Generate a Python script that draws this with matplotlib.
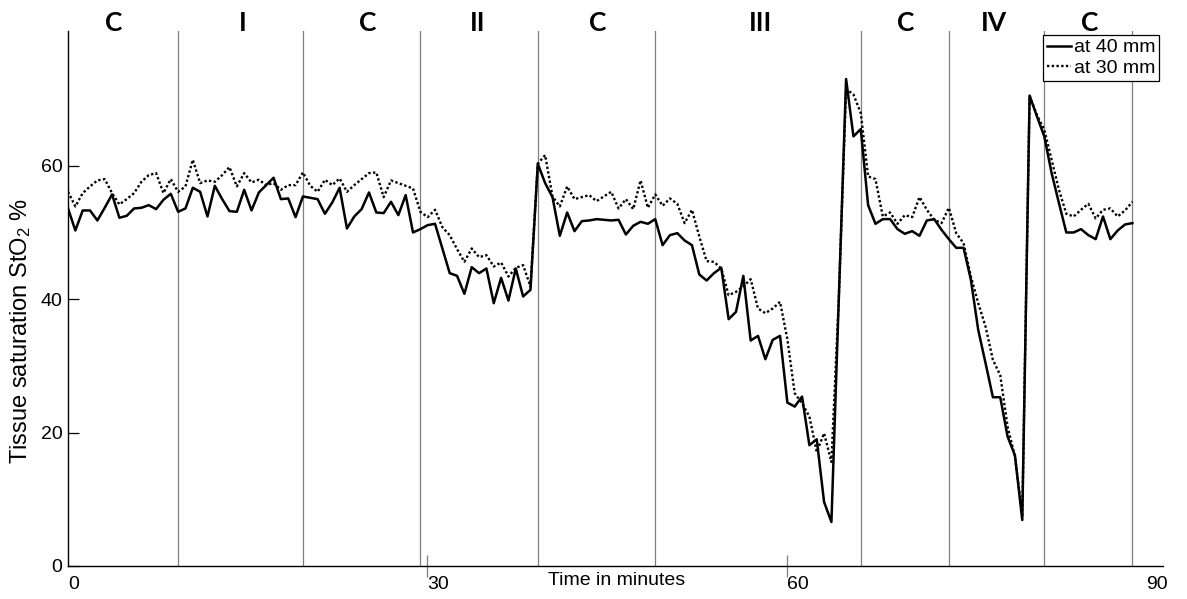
"""Tissue oxygen saturation at two probe depths across the test protocol."""

import matplotlib
matplotlib.use("Agg")
import matplotlib.pyplot as plt
import numpy as np

plt.rcParams["font.family"] = ["Liberation Sans", "DejaVu Sans"]
plt.rcParams["mathtext.default"] = "regular"

INK = "#000000"
RULE = "#7f7f7f"

# sampling interval of the oximeter, minutes
DT = 0.6127

# StO2 (%) per sample
SAT_40MM = [
    53.6, 50.3, 53.3, 53.3, 51.8, 53.7, 55.7, 52.2, 52.5, 53.6,
    53.7, 54.1, 53.5, 54.9, 55.8, 53.1, 53.6, 56.7, 56.1, 52.4,
    57.0, 55.0, 53.2, 53.1, 56.4, 53.3, 56.0, 57.1, 58.2, 55.0,
    55.1, 52.3, 55.4, 55.2, 55.0, 52.8, 54.5, 56.7, 50.6, 52.4,
    53.5, 56.0, 53.0, 52.9, 54.6, 52.6, 55.6, 50.0, 50.5, 51.1,
    51.3, 47.6, 43.9, 43.5, 40.8, 44.8, 43.9, 44.6, 39.4, 43.2,
    39.8, 44.6, 40.4, 41.4, 60.3, 57.4, 55.3, 49.5, 53.0, 50.2,
    51.7, 51.8, 52.0, 51.9, 51.8, 51.9, 49.7, 51.0, 51.6, 51.3,
    52.0, 48.1, 49.6, 49.9, 48.8, 48.1, 43.7, 42.8, 43.9, 44.7,
    37.0, 38.1, 43.5, 33.8, 34.5, 31.0, 33.9, 34.5, 24.5, 23.9,
    25.4, 18.1, 19.0, 9.6, 6.6, 39.8, 73.0, 64.4, 65.5, 54.1,
    51.3, 52.0, 52.0, 50.5, 49.8, 50.2, 49.5, 51.8, 52.0, 50.4,
    49.0, 47.7, 47.7, 42.9, 35.4, 30.4, 25.3, 25.3, 19.4, 16.6,
    6.9, 70.5, 67.4, 64.4, 58.9, 54.4, 50.0, 50.0, 50.5, 49.6,
    49.0, 52.4, 49.0, 50.3, 51.2, 51.4,
]
SAT_30MM = [
    56.1, 53.9, 55.9, 56.9, 57.8, 58.0, 55.9, 54.2, 55.0, 55.9,
    57.6, 58.6, 58.9, 55.9, 58.0, 56.1, 56.9, 60.9, 57.4, 57.8,
    57.6, 58.6, 59.8, 56.9, 58.9, 57.5, 57.9, 57.1, 57.4, 56.4,
    57.1, 57.1, 59.0, 57.0, 56.1, 57.9, 57.1, 58.1, 56.1, 57.1,
    58.0, 58.9, 59.0, 55.3, 57.8, 57.4, 57.0, 56.6, 53.1, 52.3,
    53.4, 50.8, 49.6, 47.5, 45.6, 47.6, 46.3, 46.6, 44.9, 45.5,
    43.4, 44.7, 45.1, 41.9, 60.3, 61.6, 55.4, 53.9, 56.9, 55.0,
    55.3, 55.6, 54.7, 55.4, 56.1, 53.6, 55.0, 53.5, 57.8, 53.7,
    55.7, 54.0, 55.1, 54.3, 51.4, 53.4, 49.4, 45.7, 45.6, 44.6,
    40.6, 41.1, 41.9, 43.0, 38.6, 37.9, 38.6, 39.6, 34.0, 25.9,
    24.4, 22.4, 17.1, 19.9, 15.6, 40.0, 71.5, 70.7, 67.9, 58.4,
    58.0, 52.4, 53.0, 51.3, 52.6, 52.3, 55.3, 53.4, 51.9, 51.4,
    53.7, 49.9, 48.4, 43.4, 39.4, 35.9, 30.9, 28.6, 20.9, 16.4,
    7.6, 70.5, 67.6, 65.4, 60.9, 56.4, 52.8, 52.4, 53.4, 54.3,
    52.1, 53.4, 53.6, 52.4, 53.3, 54.6,
]

# protocol phases: boundaries (min) and the label drawn over each phase
PHASE_BOUNDS = [9.2, 19.6, 29.4, 39.2, 49.0, 66.2, 73.5, 81.5, 88.8]
PHASE_NAMES = ["C", "I", "C", "II", "C", "III", "C", "IV", "C"]
PHASE_LABEL_X = [3.8, 14.6, 25.0, 34.2, 44.2, 57.8, 69.9, 77.3, 85.3]

X_TICKS = [0, 30, 60, 90]
Y_TICKS = [0, 20, 40, 60]

time_min = np.arange(len(SAT_40MM)) * DT

fig = plt.figure(figsize=(11.87, 5.99), dpi=100)
ax = fig.add_axes([0.0573, 0.0551, 0.9225, 0.8931])

for xb in PHASE_BOUNDS:
    ax.axvline(xb, color=RULE, lw=0.9, zorder=1)

ax.plot(time_min, SAT_40MM, color=INK, lw=1.8, label="at 40 mm", zorder=3)
ax.plot(time_min, SAT_30MM, color=INK, lw=1.7, linestyle=(0, (1, 1)),
        label="at 30 mm", zorder=2)

for xl, name in zip(PHASE_LABEL_X, PHASE_NAMES):
    ax.text(xl, 81.4, name, ha="center", va="center", fontsize=19,
            fontweight="bold", family=["Lato", "DejaVu Sans"],
            clip_on=False)

ax.set_xlim(0, 91.4)
ax.set_ylim(0, 80.2)
ax.spines["top"].set_visible(False)
ax.spines["right"].set_visible(False)
for side in ("left", "bottom"):
    ax.spines[side].set_linewidth(1.0)
    ax.spines[side].set_color(INK)

ax.set_xticks(X_TICKS)
ax.set_xticklabels([str(t) for t in X_TICKS], ha="left")
ax.set_yticks(Y_TICKS)
ax.tick_params(axis="x", direction="inout", length=15.8, width=0.9,
               color=RULE, labelsize=14, pad=-1)
ax.tick_params(axis="y", direction="in", length=8, width=0.9,
               color=INK, labelsize=14, pad=4)
ticks = ax.xaxis.get_major_ticks()
for i in (0, len(ticks) - 1):
    ticks[i].tick1line.set_visible(False)

ax.set_xlabel("Time in minutes", fontsize=14)
ax.xaxis.set_label_coords(0.501, -0.011)
ax.set_ylabel("Tissue saturation StO$_2$ %", fontsize=17)
ax.yaxis.set_label_coords(-0.032, 0.44)

leg = ax.legend(loc="upper right", bbox_to_anchor=(0.9764, 0.9416),
                bbox_transform=fig.transFigure, borderaxespad=0,
                fontsize=14, handlelength=1.2, handletextpad=0.15,
                borderpad=0.2, labelspacing=0.15, fancybox=False,
                framealpha=1, edgecolor=INK)
leg.get_frame().set_linewidth(0.9)

fig.savefig("out.png", dpi=100)
plt.close(fig)
